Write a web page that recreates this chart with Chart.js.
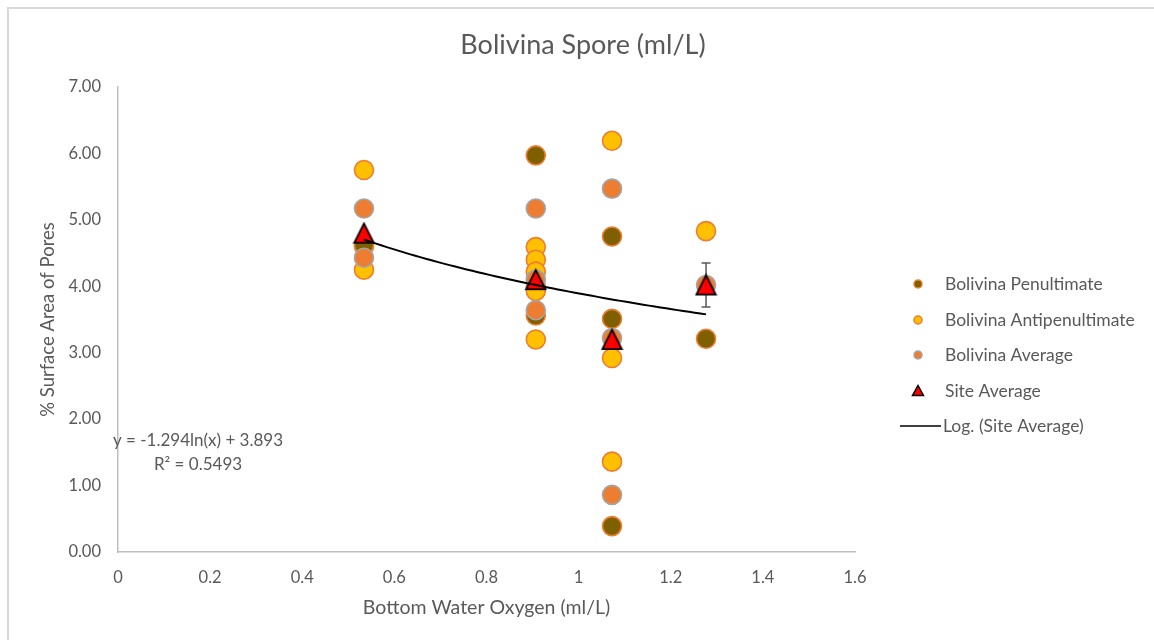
<!DOCTYPE html>
<html>
<head>
<meta charset="utf-8">
<script src="https://cdn.jsdelivr.net/npm/chart.js@4.4.0/dist/chart.umd.min.js"></script>
<style>
  html, body { margin: 0; padding: 0; background: #ffffff; }
  #wrap { position: relative; width: 1154px; height: 640px; }
</style>
</head>
<body>
<div id="wrap"><canvas id="c" width="1154" height="640"></canvas></div>
<script>
// Bottom-water oxygen at each site (ml/L)
const oxygenSites = [0.534, 0.907, 1.0725, 1.2766];
// % surface area of pores, one list of specimens per site
const penultimate     = [[4.60, 4.62], [5.97, 3.56, 4.00], [4.75, 3.51, 0.39], [3.21]];
const antipenultimate = [[5.75, 4.25], [4.59, 4.40, 4.22, 3.93, 3.20], [6.19, 2.92, 1.36], [4.83]];
const specimenAverage = [[5.17, 4.43], [5.17, 4.10, 3.64], [5.47, 3.22, 0.86], [4.02]];
const siteAverage     = [4.80, 4.10, 3.20, 4.02];
const siteError       = [0, 0, 0, 0.33];
// Logarithmic trendline of the site averages: y = a ln(x) + b
const logFit   = [-1.294, 3.893];
const rSquared = 0.5493;
const xTicks = [0, 0.2, 0.4, 0.6, 0.8, 1, 1.2, 1.4, 1.6];
const yTicks = [0, 1, 2, 3, 4, 5, 6, 7];

const FONT = 'Lato';
const TEXT = '#595959';

const toPoints = groups => groups.flatMap((vals, i) => vals.map(v => ({ x: oxygenSites[i], y: v })));

const trendPoints = [];
{
  const x0 = oxygenSites[0], x1 = oxygenSites[oxygenSites.length - 1];
  for (let i = 0; i <= 60; i++) {
    const x = x0 + (x1 - x0) * i / 60;
    trendPoints.push({ x, y: logFit[0] * Math.log(x) + logFit[1] });
  }
}

// Triangle marker sitting centred in its own box
function makeTriangle(size, lw) {
  const cv = document.createElement('canvas');
  cv.width = size; cv.height = size;
  const g = cv.getContext('2d');
  g.beginPath();
  g.moveTo(size / 2, lw);
  g.lineTo(size - lw, size - lw);
  g.lineTo(lw, size - lw);
  g.closePath();
  g.fillStyle = '#ff0000';
  g.fill();
  g.lineWidth = lw;
  g.lineJoin = 'miter';
  g.strokeStyle = '#000000';
  g.stroke();
  return cv;
}
const triangleMarker = makeTriangle(23, 1.8);

const series = [
  { label: 'Bolivina Penultimate', data: toPoints(penultimate),
    backgroundColor: '#7f6000', borderColor: '#ed7d31', order: 5 },
  { label: 'Bolivina Antipenultimate', data: toPoints(antipenultimate),
    backgroundColor: '#ffc000', borderColor: '#ed7d31', order: 4 },
  { label: 'Bolivina Average', data: toPoints(specimenAverage),
    backgroundColor: '#ed7d31', borderColor: '#a5a5a5', order: 3 }
].map(d => Object.assign(d, { pointRadius: 9.5, borderWidth: 1.6, pointStyle: 'circle' }));

const siteSet = {
  label: 'Site Average',
  data: siteAverage.map((v, i) => ({ x: oxygenSites[i], y: v })),
  pointStyle: triangleMarker, pointRadius: 11, order: 2
};
const trendSet = {
  label: 'Log. (Site Average)', data: trendPoints, showLine: true,
  pointRadius: 0, borderColor: '#000000', borderWidth: 2, order: 1
};

const framePlugin = {
  id: 'frame',
  beforeDraw(chart) {
    const ctx = chart.ctx;
    ctx.save();
    ctx.fillStyle = '#ffffff';
    ctx.fillRect(0, 0, chart.width, chart.height);
    ctx.strokeStyle = '#d9d9d9';
    ctx.lineWidth = 2;
    ctx.strokeRect(8, 8, chart.width + 20, chart.height + 20);
    ctx.restore();
  }
};

const errorBarPlugin = {
  id: 'errorBars',
  beforeDatasetDraw(chart, args) {
    if (args.meta.label !== 'Site Average') return;
    const { ctx, scales: { x, y } } = chart;
    ctx.save();
    ctx.strokeStyle = '#595959';
    ctx.lineWidth = 1.5;
    siteAverage.forEach((v, i) => {
      const e = siteError[i];
      if (!e) return;
      const px = x.getPixelForValue(oxygenSites[i]);
      const top = y.getPixelForValue(v + e), bot = y.getPixelForValue(v - e);
      ctx.beginPath();
      ctx.moveTo(px, top); ctx.lineTo(px, bot);
      ctx.moveTo(px - 4.5, top); ctx.lineTo(px + 4.5, top);
      ctx.moveTo(px - 4.5, bot); ctx.lineTo(px + 4.5, bot);
      ctx.stroke();
    });
    ctx.restore();
  }
};

const annotationPlugin = {
  id: 'texts',
  afterDraw(chart) {
    const ctx = chart.ctx;
    ctx.save();
    ctx.fillStyle = TEXT;
    ctx.textBaseline = 'middle';

    // Title
    ctx.textAlign = 'center';
    ctx.font = `27px ${FONT}`;
    ctx.fillText('Bolivina Spore (ml/L)', 583, 45);

    // Trendline equation
    ctx.font = `17px ${FONT}`;
    ctx.fillText(`y = ${logFit[0]}ln(x) + ${logFit[1]}`, 198, 441);
    ctx.fillText(`R² = ${rSquared}`, 198, 465);

    // Legend
    const rows = [284, 320, 355, 391, 426];
    ctx.textAlign = 'left';
    ctx.font = `17.5px ${FONT}`;
    const mx = 918;
    chart.data.datasets.forEach((ds, i) => {
      const yy = rows[i];
      if (ds.label === 'Site Average') {
        ctx.beginPath();
        ctx.moveTo(mx, yy - 5.5); ctx.lineTo(mx + 5.5, yy + 4.5); ctx.lineTo(mx - 5.5, yy + 4.5);
        ctx.closePath();
        ctx.fillStyle = '#ff0000'; ctx.fill();
        ctx.lineWidth = 1.5; ctx.strokeStyle = '#000'; ctx.stroke();
      } else if (ds.showLine) {
        ctx.beginPath();
        ctx.moveTo(900, yy); ctx.lineTo(941, yy);
        ctx.lineWidth = 1.5; ctx.strokeStyle = '#000'; ctx.stroke();
      } else {
        ctx.beginPath();
        ctx.arc(mx, yy, 4, 0, Math.PI * 2);
        ctx.fillStyle = ds.backgroundColor; ctx.fill();
        ctx.lineWidth = 1.5; ctx.strokeStyle = ds.borderColor; ctx.stroke();
      }
      ctx.fillStyle = TEXT;
      ctx.fillText(ds.label, ds.showLine ? 943 : 945, yy);
    });
    ctx.restore();
  }
};

new Chart(document.getElementById('c'), {
  type: 'scatter',
  data: { datasets: [...series, siteSet, trendSet] },
  options: {
    responsive: false,
    animation: false,
    events: [],
    layout: { padding: { top: 87, right: 299, left: 0, bottom: 0 } },
    plugins: { legend: { display: false }, tooltip: { enabled: false } },
    scales: {
      x: {
        type: 'linear', min: 0, max: 1.6,
        afterFit: s => { s.height = 88; },
        afterBuildTicks: s => { s.ticks = xTicks.map(v => ({ value: v })); },
        grid: { display: false, drawTicks: false },
        border: { display: true, color: '#bfbfbf', width: 1.5 },
        ticks: { color: TEXT, font: { family: FONT, size: 16.5 }, padding: 16,
                 maxRotation: 0, callback: v => String(Number(v.toFixed(1))) },
        title: { display: true, text: 'Bottom Water Oxygen (ml/L)', color: TEXT,
                 font: { family: FONT, size: 19.5 }, padding: { top: 0, bottom: 21 } }
      },
      y: {
        type: 'linear', min: 0, max: 7,
        afterFit: s => { s.width = 118; },
        afterBuildTicks: s => { s.ticks = yTicks.map(v => ({ value: v })); },
        grid: { display: false, drawTicks: false },
        border: { display: true, color: '#bfbfbf', width: 1.5 },
        ticks: { color: TEXT, font: { family: FONT, size: 16.5 }, padding: 17,
                 callback: v => v.toFixed(2) },
        title: { display: true, text: '% Surface Area of Pores', color: TEXT,
                 font: { family: FONT, size: 18.5 }, padding: { top: 37, bottom: 0 } }
      }
    }
  },
  plugins: [framePlugin, errorBarPlugin, annotationPlugin]
});
</script>
</body>
</html>
